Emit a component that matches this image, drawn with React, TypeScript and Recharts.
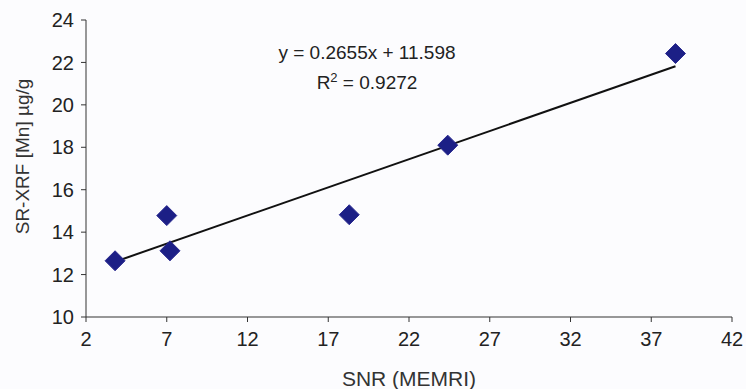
import { ScatterChart, Scatter, XAxis, YAxis, ReferenceLine } from "recharts";

const snr = [3.8, 7.0, 7.2, 18.3, 24.4, 38.5];
const mn = [12.65, 14.78, 13.12, 14.82, 18.1, 22.42];
const xTicks = [2, 7, 12, 17, 22, 27, 32, 37, 42];
const yTicks = [10, 12, 14, 16, 18, 20, 22, 24];

// trendline from the fitted equation shown on the chart
const slope = 0.2655;
const intercept = 11.598;
const trendX = [3.8, 38.5];

const points = snr.map((x, i) => ({ x, y: mn[i] }));
const font = "'Liberation Sans', Arial, sans-serif";
const axisColor = "#333";

function Diamond(props: any) {
  const { cx, cy } = props;
  const r = 10;
  return (
    <polygon
      points={`${cx},${cy - r} ${cx + r},${cy} ${cx},${cy + r} ${cx - r},${cy}`}
      fill="#1c1f86"
      stroke="#2a2a90"
      strokeWidth={1}
    />
  );
}

export default function App() {
  return (
    <div style={{ position: "absolute", left: 0, top: 0, width: 746, height: 389, background: "#fcfcfe", fontFamily: font }}>
      <ScatterChart width={746} height={389} margin={{ top: 20, right: 14, bottom: 0, left: 0 }} style={{ fontFamily: font }}>
        <XAxis
          type="number"
          dataKey="x"
          domain={[2, 42]}
          ticks={xTicks}
          height={72}
          tickSize={5}
          tickMargin={10}
          stroke={axisColor}
          fontSize={20}
          tick={{ fill: "#222", fontSize: 20 }}
          label={{ value: "SNR (MEMRI)", position: "insideBottom", offset: 3, fill: "#333", fontSize: 21 }}
        />
        <YAxis
          type="number"
          dataKey="y"
          domain={[10, 24]}
          ticks={yTicks}
          width={86}
          tickSize={5}
          tickMargin={7}
          stroke={axisColor}
          fontSize={20}
          tick={{ fill: "#222", fontSize: 20 }}
          label={{ value: "SR-XRF [Mn] µg/g", angle: -90, position: "insideLeft", offset: 22, dy: -12, style: { textAnchor: "middle" }, fill: "#333", fontSize: 19 }}
        />
        <ReferenceLine
          segment={[
            { x: trendX[0], y: slope * trendX[0] + intercept },
            { x: trendX[1], y: slope * trendX[1] + intercept },
          ]}
          stroke="#111"
          strokeWidth={2}
          ifOverflow="visible"
        />
        <Scatter data={points} shape={<Diamond />} isAnimationActive={false} />
      </ScatterChart>
      <div style={{ position: "absolute", left: 247, top: 38, width: 240, textAlign: "center", fontSize: 19, color: "#222", lineHeight: "30px" }}>
        <div>y = 0.2655x + 11.598</div>
        <div>
          R<sup style={{ fontSize: 13, lineHeight: 0 }}>2</sup> = 0.9272
        </div>
      </div>
    </div>
  );
}
